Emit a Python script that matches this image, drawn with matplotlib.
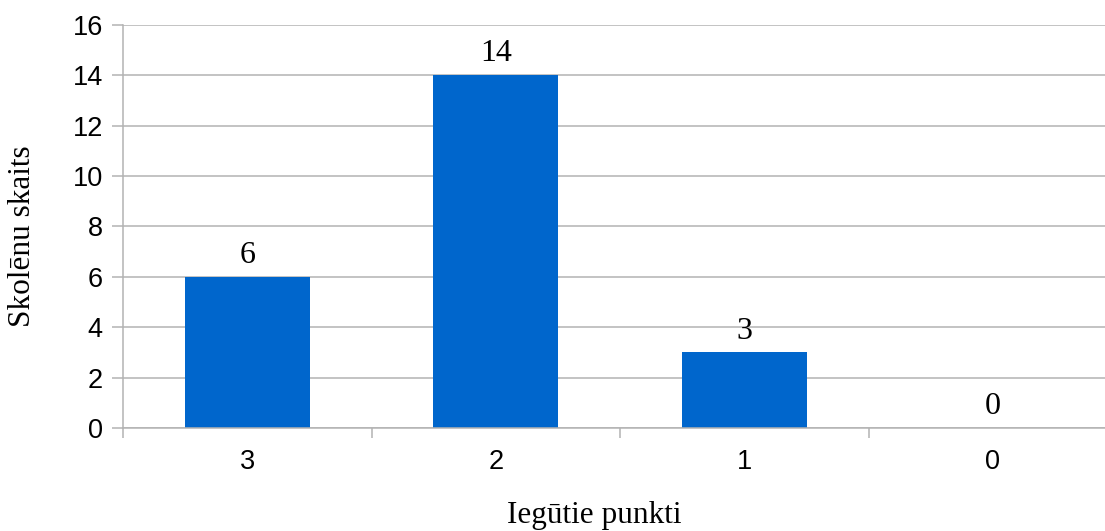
import matplotlib
matplotlib.use("Agg")
import matplotlib.pyplot as plt
from matplotlib.ticker import FixedLocator, NullFormatter

categories = ["3", "2", "1", "0"]
counts = [6, 14, 3, 0]
y_ticks = [0, 2, 4, 6, 8, 10, 12, 14, 16]

bar_color = "#0066CC"
grid_color = "#b3b3b3"
sans = ["Liberation Sans", "DejaVu Sans"]
serif = ["Liberation Serif", "DejaVu Serif"]

W, H, DPI = 1105, 531, 100
fig = plt.figure(figsize=(W / DPI, H / DPI), dpi=DPI)
ax = fig.add_axes([123 / W, 1 - 428 / H, (1117 - 123) / W, (428 - 25) / H])

x = list(range(len(categories)))
ax.bar(x, counts, width=0.503, color=bar_color, zorder=3)

ax.set_xlim(-0.5, len(categories) - 0.5)
ax.set_ylim(0, 16)
ax.set_yticks(y_ticks)
ax.set_yticklabels([str(v) for v in y_ticks], fontfamily=sans, fontsize=19.5)
ax.yaxis.grid(True, color=grid_color, linewidth=1.1, zorder=0)

# category boundaries as major ticks, category names on minor ticks
ax.xaxis.set_major_locator(FixedLocator([i - 0.5 for i in x]))
ax.xaxis.set_major_formatter(NullFormatter())
ax.xaxis.set_minor_locator(FixedLocator(x))
ax.set_xticklabels(categories, minor=True, fontfamily=sans, fontsize=19.5)

ax.tick_params(axis="x", which="major", direction="out", length=7.2, width=1.1, color=grid_color)
ax.tick_params(axis="x", which="minor", length=0, pad=15)
ax.tick_params(axis="y", direction="out", length=8, width=1.1, color=grid_color, pad=6.5)

for side in ("top", "right"):
    ax.spines[side].set_visible(False)
for side in ("left", "bottom"):
    ax.spines[side].set_color(grid_color)
    ax.spines[side].set_linewidth(1.1)
    ax.spines[side].set_zorder(4)

for xi, v in zip(x, counts):
    ax.annotate(str(v), (xi, v), xytext=(0, 10), textcoords="offset points",
                ha="center", va="baseline", fontfamily=serif, fontsize=23)

fig.text(22.5 / W, 1 - 236.5 / H, "Skolēnu skaits", rotation=90, ha="center", va="center",
         fontfamily=serif, fontsize=22.5)
fig.text(594.5 / W, 1 / H, "Iegūtie punkti", ha="center", va="bottom",
         fontfamily=serif, fontsize=22.5)

fig.savefig("out.png", dpi=DPI)
